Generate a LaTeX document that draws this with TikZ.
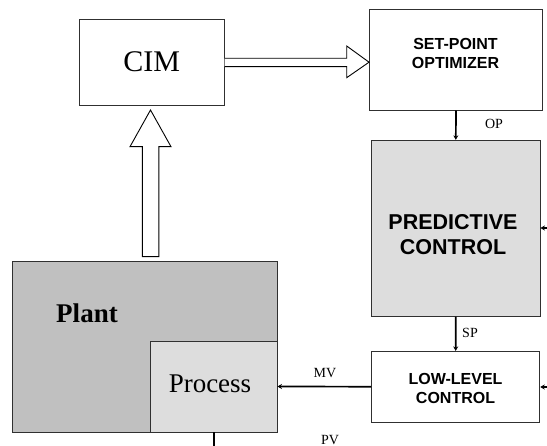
\documentclass[tikz,border=0pt]{standalone}
\usepackage{fontspec}
\setmainfont{Liberation Serif}
\newfontfamily\arialfont{Liberation Sans}
\usetikzlibrary{arrows.meta,calc}
\definecolor{plantgray}{HTML}{C0C0C0}
\definecolor{procgray}{HTML}{DDDDDD}
\definecolor{edgegray}{HTML}{303030}
\begin{document}
\begin{tikzpicture}[x=1pt,y=-1pt,
  box/.style={draw=edgegray,line width=0.9pt,rectangle,inner sep=0pt},
  sanslbl/.style={font=\arialfont\bfseries\fontsize{16}{19}\selectfont,align=center,inner sep=0pt},
  siglbl/.style={font=\fontsize{14}{16}\selectfont,inner sep=0pt},
  conn/.style={line width=1.7pt,-{Stealth[length=4.5pt,width=5pt]}},
  blockarrow/.style={draw=black,line width=0.9pt,fill=white}]
\useasboundingbox (0,0) rectangle (547,446);
% boxes
\node[box,minimum width=145pt,minimum height=86pt] (cim) at (151.6,62.2) {};
\node[font=\fontsize{30}{32}\selectfont,inner sep=0pt] (cimtxt) at (151.6,62.2) {CIM};
\node[box,minimum width=173pt,minimum height=100.7pt] (spo) at (456,59.7) {};
\node[sanslbl] (spotxt) at (455.5,53) {SET-POINT\\OPTIMIZER};
\node[box,fill=procgray,minimum width=168.4pt,minimum height=176pt] (pc) at (455.8,228.3) {};
\node[sanslbl,font=\arialfont\bfseries\fontsize{21.5}{25}\selectfont] (pctxt) at (453,235) {PREDICTIVE\\CONTROL};
\node[box,minimum width=168.2pt,minimum height=70.7pt] (llc) at (455.7,386.7) {};
\node[sanslbl] (llctxt) at (455.5,388) {LOW-LEVEL\\CONTROL};
\node[box,fill=plantgray,minimum width=264.7pt,minimum height=171pt] (plant) at (144.65,346.5) {};
\node[box,fill=procgray,minimum width=127pt,minimum height=91pt] (proc) at (213.5,386.5) {};
\node[font=\bfseries\fontsize{27}{30}\selectfont,inner sep=0pt] (planttxt) at (87,313) {Plant};
\node[font=\fontsize{27}{30}\selectfont,inner sep=0pt] (proctxt) at (210,384) {Process};
% signal labels
\node[siglbl] (op) at (494,124) {OP};
\node[siglbl] (sp) at (470,333) {SP};
\node[siglbl] (mv) at (325,373) {MV};
\node[siglbl] (pv) at (330,440) {PV};
% connectors
\draw[conn] (spo.south) -- (pc.north);
\draw[conn] (pc.south) -- (llc.south|-llc.north);
\draw[conn] (llc.west) -- (proc.east);
\coordinate (pcin) at (547,228);
\coordinate (llcin) at (547,387);
\draw[conn] (pcin) -- (pc.east|-pcin);
\draw[conn] (llcin) -- (llc.east|-llcin);
\coordinate (pvend) at (213.7,446);
\draw[line width=1.7pt] (proc.south-|pvend) -- (pvend);
% block arrow CIM -> optimizer
\draw[blockarrow] (cim.east|-0,58.3) -- (346.7,58.3) -- (346.7,46) -- (spo.west|-0,62.2)
  -- (346.7,77.7) -- (346.7,66.7) -- (cim.east|-0,66.7);
% block arrow plant -> CIM
\draw[blockarrow] (142.4,256.7) -- (142.4,146.7) -- (130,146.7) -- (150.5,110)
  -- (171,146.7) -- (158.8,146.7) -- (158.8,256.7) -- cycle;
\end{tikzpicture}
\end{document}
